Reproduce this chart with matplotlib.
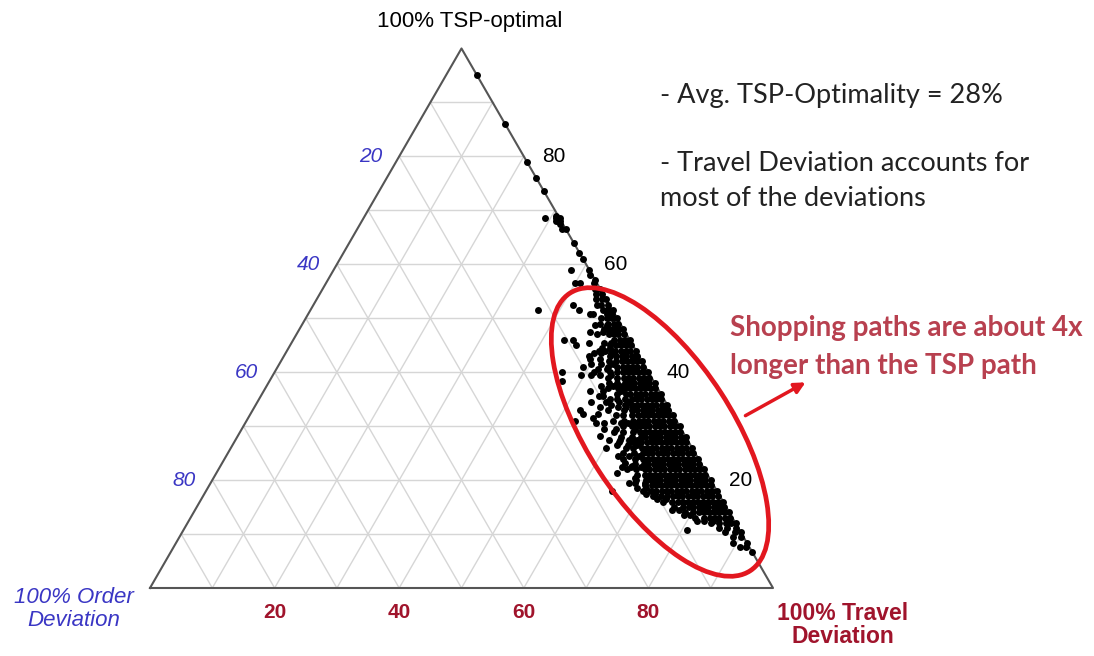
import numpy as np
import matplotlib.pyplot as plt
from matplotlib.patches import Ellipse, FancyArrowPatch

# TSP-optimal share (%) per row of dots, and the order-deviation share (%) of each dot in that row
tsp_rows = [95, 86, 79, 76, 73.5, 69, 68.5, 68, 67.5, 66.5, 64, 62, 61, 59, 58, 57, 56.5,
            55.5, 54.5, 53.5, 52.5, 51.5, 50.8, 50, 49, 48.8, 48, 47, 46, 45, 44.4, 44, 43,
            42.5, 42, 41, 40.5, 40, 39, 38.3, 38, 37, 36, 35.5, 35, 34, 33, 32.3, 32, 31.5,
            31, 30, 29, 28.2, 28, 27, 26, 25, 24, 23.2, 23, 22.7, 22, 21.4, 21, 20.4, 20,
            19, 18, 17, 16, 15, 14, 13, 12.5, 12, 11.2, 10.7, 10.3, 9.5, 8.3, 7.6, 6.6]
order_rows = [
    [0], [0], [0], [0], [0], [0.3], [0, 0.6, 2.3], [0.2, 0.8], [0.4], [0, 0.6], [0], [0.2],
    [0], [0, 3], [0.3], [0], [0.5, 2.7, 3.5], [0, 0.8], [0.2, 1.2], [0, 0.7, 1.6],
    [0.3, 1.4, 2.0, 5.8], [0, 0.8, 1.6, 5.4, 11.9], [0.4, 1.2, 3.5, 4.0],
    [0, 0.9, 1.7, 2.6], [0.3, 1.1, 2.0, 3.3], [2.2, 4.2], [0, 0.8, 1.7, 2.4, 3.1],
    [0.4, 1.3, 2.0, 2.9, 4.8], [0, 0.8, 1.6, 2.5, 9.1, 10.6], [0.3, 1.1, 1.9, 2.7, 3.6, 9.2],
    [4.0, 5.3], [0, 0.9, 1.6, 2.4, 3.3, 5.0, 6.0], [0.4, 1.2, 2.1, 2.8, 3.7, 4.6, 8.1],
    [6.5, 8.2], [0, 0.8, 1.6, 2.5, 3.2, 4.2, 5.4], [0.4, 1.3, 2.0, 2.8, 3.6, 4.5, 6.0, 10.0],
    [6.4, 7.8], [0, 0.8, 1.7, 2.4, 3.2, 4.1, 5.0, 6.2, 8.8, 13.8],
    [0.4, 1.2, 2.0, 2.9, 3.6, 4.4, 5.5, 7.0], [14.7],
    [0, 0.9, 1.6, 2.4, 3.3, 4.0, 4.8, 6.0, 7.4],
    [0.4, 1.2, 2.1, 2.8, 3.6, 4.5, 5.2, 6.4, 8.0],
    [0, 0.8, 1.6, 2.5, 3.2, 4.0, 4.9, 5.6, 7.0], [9.6, 10.2],
    [0.4, 1.3, 2.0, 2.8, 3.7, 4.4, 5.2, 6.2, 7.6, 8.6],
    [0, 0.8, 1.7, 2.4, 3.2, 4.1, 4.8, 5.7, 6.8, 9.0],
    [0.4, 1.2, 2.0, 2.9, 3.6, 4.4, 5.3, 6.2, 7.4, 10.0, 14.4], [12.0, 14.3],
    [0, 0.9, 1.6, 2.4, 3.3, 4.0, 4.8, 5.6, 6.6, 8.0, 9.2], [13.1],
    [0.4, 1.2, 2.1, 2.8, 3.6, 4.5, 5.2, 6.0, 7.0, 8.4, 10.2, 16.3],
    [0, 0.8, 1.6, 2.5, 3.2, 4.0, 4.9, 5.6, 6.4, 7.6, 9.0],
    [0.4, 1.3, 2.0, 2.8, 3.7, 4.4, 5.2, 6.1, 6.8, 8.0, 9.6, 11.0], [13.7],
    [0, 0.8, 1.7, 2.4, 3.2, 4.1, 4.8, 5.6, 6.5, 7.2, 8.6, 10.4],
    [0.4, 1.2, 2.0, 2.9, 3.6, 4.4, 5.3, 6.0, 6.8, 7.7, 9.0, 11.2],
    [0, 0.9, 1.6, 2.4, 3.3, 4.0, 4.8, 5.7, 6.4, 7.2, 8.1, 9.4, 10.6, 13.8],
    [0.4, 1.2, 2.1, 2.8, 3.6, 4.5, 5.2, 6.0, 6.9, 7.6, 8.4, 9.8, 11.6],
    [0, 0.8, 1.6, 2.5, 3.2, 4.0, 4.9, 5.6, 6.4, 7.3, 8.0, 8.8, 10.2, 12.0], [12.1],
    [0.4, 1.3, 2.0, 2.8, 3.7, 4.4, 5.2, 6.1, 6.8, 7.6, 8.5, 9.2, 10.6], [11.3],
    [0, 0.8, 1.7, 2.4, 3.2, 4.1, 4.8, 5.6, 6.5, 7.2, 8.0, 8.9, 9.6, 11.0, 12.4], [14.4],
    [0.4, 1.2, 2.0, 2.9, 3.6, 4.4, 5.3, 6.0, 6.8, 7.7, 8.4, 9.2, 10.0, 11.4], [11.9],
    [0, 0.9, 1.6, 2.4, 3.3, 4.0, 4.8, 5.7, 6.4, 7.2, 8.1, 8.8, 9.6, 10.4, 12.0],
    [0.4, 1.2, 2.1, 2.8, 3.6, 4.5, 5.2, 6.0, 6.9, 7.6, 8.4, 9.3, 10.0, 11.0],
    [0, 0.8, 1.6, 2.5, 3.2, 4.0, 4.9, 5.6, 6.4, 7.3, 8.0, 8.8, 9.7, 10.6, 11.8, 16.8],
    [0.4, 1.3, 2.0, 2.8, 3.7, 4.4, 5.2, 6.1, 6.8, 7.6, 8.5, 9.4, 10.8],
    [0, 0.8, 1.7, 2.4, 3.2, 4.1, 4.8, 5.6, 6.5, 7.2, 8.2, 9.6],
    [0.4, 1.2, 2.0, 2.9, 3.6, 4.4, 5.3, 6.0, 7.0, 8.4],
    [0, 0.9, 1.6, 2.4, 3.3, 4.0, 4.8, 5.8, 7.2],
    [0.4, 1.2, 2.1, 2.8, 3.6, 4.6, 6.0], [3.4, 4.8, 5.9], [0, 0.8, 1.6, 2.6, 4.0],
    [0.4, 1.8, 3.0], [8.5], [0, 1.0, 2.6], [0.4, 1.6], [0, 2.3], [0.6, 1.5], [0],
]
# looser dots to the left of the dense band
tsp_sparse_rows = [47.5, 45.5, 43.5, 41.5, 39.5, 37.5, 36.5, 34.5, 33.5, 30.5, 29.5, 27.5,
                   26.5, 24.5, 22.5, 19.5, 18.5, 17.5, 16.5, 14.5, 13.5]
order_sparse_rows = [
    [3.6, 5.6], [3.3, 4.4, 6.8], [4.2, 5.8, 7.0], [5.0, 6.8, 8.4], [6.2, 8.0, 9.4, 11.0],
    [5.8, 7.0, 8.8], [6.2, 9.0, 11.2], [6.0, 7.4, 9.6, 12.0], [6.8, 8.2, 11.0],
    [6.8, 8.0, 9.2, 11.8, 13.2], [7.4, 10.4, 12.4], [8.0, 9.4, 10.8, 12.6],
    [8.6, 10.0, 11.8], [9.2, 10.8, 12.6], [10.0, 11.6, 13.0], [10.8, 12.4, 13.4],
    [11.2, 12.6], [10.2, 11.6], [9.0, 10.4], [7.8, 9.0], [6.6, 7.6],
]

tick_vals = [20, 40, 60, 80]
grid_vals = [10, 20, 30, 40, 50, 60, 70, 80, 90]

# pixel geometry of the triangle in the 1094x656 picture
X0, YB, SIDE = 150, 588, 623
H = np.sqrt(3) / 2

DARK_RED = '#a0142c'
BLUE = '#3a36c4'
RED = '#e2171f'


def tern(tsp, order):
    t = np.asarray(tsp, dtype=float) / 100
    o = np.asarray(order, dtype=float) / 100
    travel = 1 - t - o
    return travel + t / 2, t * H


def px(x, y):
    return (x - X0) / SIDE, (YB - y) / SIDE


fig = plt.figure(figsize=(10.94, 6.56), dpi=100)
ax = fig.add_axes([0, 0, 1, 1])
ax.set_xlim(-X0 / SIDE, (1094 - X0) / SIDE)
ax.set_ylim((YB - 656) / SIDE, YB / SIDE)
ax.axis('off')

# grid
for g in grid_vals:
    f = g / 100
    ax.plot([f / 2, 1 - f / 2], [f * H, f * H], color='#d6d6d6', lw=1, zorder=1)
    ax.plot([f, f / 2 + 0.5], [0, (1 - f) * H], color='#d6d6d6', lw=1, zorder=1)
    ax.plot([f, f / 2], [0, f * H], color='#d6d6d6', lw=1, zorder=1)

ax.plot([0, 1, 0.5, 0], [0, 0, H, 0], color='#555555', lw=1.5, zorder=2)

# dots
tsp_all = []
order_all = []
for t, row in list(zip(tsp_rows, order_rows)) + list(zip(tsp_sparse_rows, order_sparse_rows)):
    for o in row:
        tsp_all.append(t)
        order_all.append(o)
xs, ys = tern(tsp_all, order_all)
ax.plot(xs, ys, 'o', color='black', ms=5, mec='none', zorder=3)

# tick labels
for v in tick_vals:
    bx, by = tern(0, 100 - v)
    ax.text(bx, by - 24 / SIDE, str(v), color=DARK_RED, fontsize=15, fontweight='bold',
            family='Liberation Sans', ha='center', va='center')
    rx, ry = tern(v, 0)
    ax.text(rx + 30 / SIDE, ry, str(v), color='black', fontsize=15,
            family='Liberation Sans', ha='center', va='center')
    lx, ly = tern(100 - v, v)
    ax.text(lx - 28 / SIDE, ly, str(v), color=BLUE, fontsize=15, style='italic',
            family='Liberation Sans', ha='center', va='center')

ax.text(*px(470, 21), '100% TSP-optimal', fontsize=16, family='Liberation Sans',
        ha='center', va='center')
ax.text(*px(74, 609), '100% Order\nDeviation', fontsize=16, style='italic', color=BLUE,
        family='Liberation Sans', ha='center', va='center', linespacing=1.1)
ax.text(*px(843, 625), '100% Travel\nDeviation', fontsize=16.5, fontweight='bold',
        color=DARK_RED, family='Liberation Sans', ha='center', va='center', linespacing=1.05)

# notes
ax.text(*px(660, 96), '- Avg. TSP-Optimality = 28%', fontsize=19.5, family='Lato',
        color='#222222', ha='left', va='center')
ax.text(*px(660, 181), '- Travel Deviation accounts for\nmost of the deviations', fontsize=19.5,
        family='Lato', color='#222222', ha='left', va='center', linespacing=1.5)
ax.text(*px(730, 347), 'Shopping paths are about 4x\nlonger than the TSP path', fontsize=20,
        family='Lato', fontweight='bold', color='#b8404f', ha='left', va='center',
        linespacing=1.6)

# highlight ellipse and arrow
ax.add_patch(Ellipse(px(660, 432), 331 / SIDE, 145 / SIDE, angle=-57, fill=False,
                     ec=RED, lw=3.4, zorder=4))
ax.add_patch(FancyArrowPatch(px(743, 417), px(808, 381), arrowstyle='-|>',
                             mutation_scale=16, lw=2.5, color=RED, zorder=4))

fig.savefig('out.png', dpi=100)
